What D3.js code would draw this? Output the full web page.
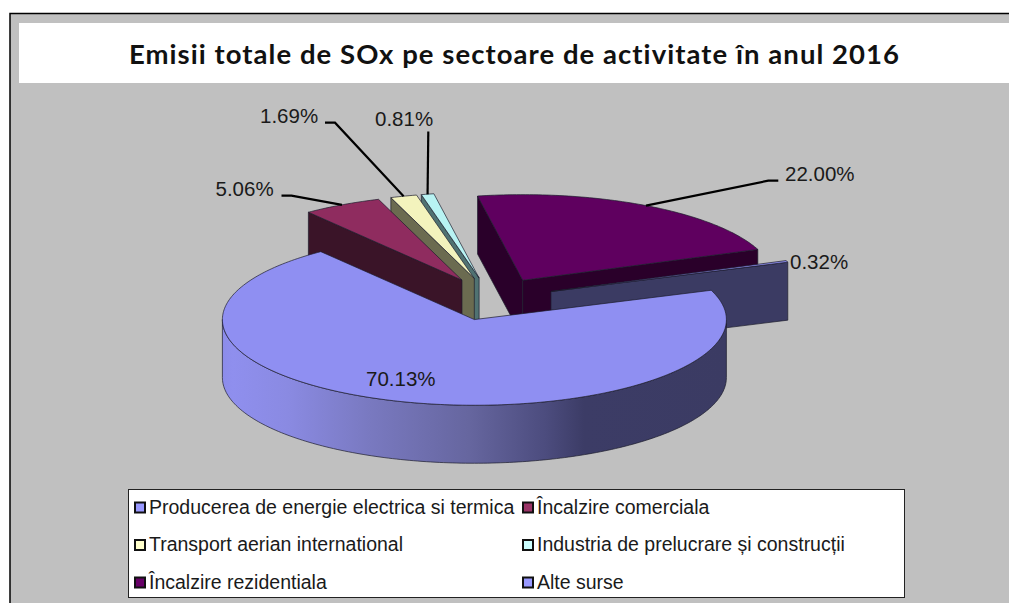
<!DOCTYPE html>
<html><head><meta charset="utf-8">
<script src="https://cdn.jsdelivr.net/npm/d3@7"></script>
<style>html,body{margin:0;padding:0;background:#fff;overflow:hidden}svg{display:block}</style>
</head><body><svg id="c" width="1009" height="603"></svg>
<script>
const titleText = "Emisii totale de SOx pe sectoare de activitate în anul 2016";
const categories = ["Producerea de energie electrica si termica","Încalzire comerciala","Transport aerian international","Industria de prelucrare și construcții","Încalzire rezidentiala","Alte surse"];
const values = [70.13,5.06,1.69,0.81,22.00,0.32];
const labels = ["70.13%","5.06%","1.69%","0.81%","22.00%","0.32%"];
const topColors = ["#8f8ff2","#8f2c5f","#f3f3bd","#b8f3f3","#5f005f","#8f8ff2"];
const sideColors = ["#3b3b63","#3a1428","#6b6b50","#507272","#2a002a","#3b3b63"];
const legendColors = ["#9999ff","#993366","#ffffcc","#ccffff","#660066","#9999ff"];
const drawOrder = [4,3,2,1,5,0];

const svg = d3.select("#c");
const W=1009,H=603;
// frame
svg.append("rect").attr("x",10).attr("y",13.5).attr("width",W).attr("height",H).attr("fill","#c0c0c0").attr("stroke","#000").attr("stroke-width",1.5);
svg.append("rect").attr("x",19).attr("y",23).attr("width",W).attr("height",60).attr("fill","#fff");
svg.append("text").attr("x",514.5).attr("y",64).attr("text-anchor","middle")
  .attr("font-family","Lato, 'Open Sans', sans-serif").attr("font-weight",700).attr("font-size",27.5).attr("letter-spacing",1.05).attr("fill","#111").text(titleText);

// pie geometry
const cx=492,cy=299,R=252,squash=0.34,depth=58,explode=63;
const deg=Math.PI/180, startA=70*deg;
const pie=d3.pie().sort(null).startAngle(startA).endAngle(startA+2*Math.PI)(values);
const pt=(a,r,ox,oy,dz=0)=>[ox+r*Math.sin(a), oy-r*Math.cos(a)*squash+dz];
const defs=svg.append("defs");
const grad=defs.append("linearGradient").attr("id","wall").attr("gradientUnits","userSpaceOnUse")
  .attr("x1",cx-62-R).attr("x2",cx-17+R).attr("y1",0).attr("y2",0);
[[0,"#8080d8"],[0.1,"#8f8fee"],[0.2,"#8a8ae2"],[0.35,"#7979c0"],[0.53,"#66669f"],[0.67,"#4c4c7e"],[0.74,"#3c3c66"],[1,"#3b3b63"]]
 .forEach(s=>grad.append("stop").attr("offset",s[0]).attr("stop-color",s[1]));
const lineGen=d3.line();
const strokeC="#1c1c2c", sw=0.7;
const arcPts=(a0,a1,ox,oy,dz)=>{
  const n=Math.max(2,Math.ceil(Math.abs(a1-a0)/(1*deg)));
  return d3.range(n+1).map(i=>pt(a0+(a1-a0)*i/n,R,ox,oy,dz));
};
const pieG=svg.append("g");
pie.forEach(d=>{ const mid=(d.startAngle+d.endAngle)/2; d.mid=mid;
  d.ox=cx+explode*Math.sin(mid); d.oy=cy-explode*Math.cos(mid)*squash; });
drawOrder.forEach(i=>{
  const d=pie[i],g=pieG.append("g"),side=sideColors[i];
  const wall=(a)=>{
    const p=pt(a,R,d.ox,d.oy);
    g.append("path").attr("d",lineGen([[d.ox,d.oy],p,[p[0],p[1]+depth],[d.ox,d.oy+depth]])+"Z")
      .attr("fill",side).attr("stroke",strokeC).attr("stroke-width",sw);
  };
  if(Math.sin(d.startAngle)<0) wall(d.startAngle);
  if(Math.sin(d.endAngle)>0) wall(d.endAngle);
  // outer wall: part of the rim facing the viewer
  const lo=Math.max(d.startAngle,90*deg), hi=Math.min(d.endAngle,270*deg);
  if(hi>lo){
    const top=arcPts(lo,hi,d.ox,d.oy,0), bot=arcPts(hi,lo,d.ox,d.oy,depth);
    g.append("path").attr("d",lineGen(top.concat(bot))+"Z").attr("fill","url(#wall)").attr("stroke",strokeC).attr("stroke-width",sw);
  }
  g.append("path").attr("d",lineGen([[d.ox,d.oy]].concat(arcPts(d.startAngle,d.endAngle,d.ox,d.oy,0)))+"Z")
    .attr("fill",topColors[i]).attr("stroke",strokeC).attr("stroke-width",sw);
});

// labels (manual layout in the source chart)
const labelLayout=[[366,386,null],[215.5,196,[[281.5,195.7],[291.5,195.7]]],[260,123,[[325,122.7],[335,122.7]]],[375,126,[[428.3,131.5]]],[785,180.5,[[778.3,180.7],[768.3,180.7]]],[790,269,null]];
const labG=svg.append("g");
labels.forEach((t,i)=>{
  const L=labelLayout[i],d=pie[i];
  if(L[2]){
    const end=pt(d.mid,R,d.ox,d.oy);
    labG.append("path").attr("d",lineGen(L[2].concat([end]))).attr("fill","none").attr("stroke","#000").attr("stroke-width",2.2);
  }
  labG.append("text").attr("x",L[0]).attr("y",L[1]).attr("font-family","'Liberation Sans',Arial,sans-serif").attr("font-size",20.5).attr("fill","#1a1a1a").text(t);
});

// legend
svg.append("rect").attr("x",128.5).attr("y",489.5).attr("width",776).attr("height",108).attr("fill","#fff").attr("stroke","#222").attr("stroke-width",1);
const legX=d3.scalePoint().domain([0,1]).range([135,523]);
const legY=d3.scalePoint().domain([0,1,2]).range([502.5,577.5]);
categories.forEach((c,i)=>{
  const col=i%2,row=Math.floor(i/2),x=legX(col),y=legY(row);
  svg.append("rect").attr("x",x).attr("y",y).attr("width",10).attr("height",10).attr("fill",legendColors[i]).attr("stroke","#111").attr("stroke-width",2);
  svg.append("text").attr("x",x+14).attr("y",y+11).attr("font-family","'Liberation Sans',Arial,sans-serif").attr("font-size",19.5).attr("fill","#1a1a1a").text(c);
});
</script></body></html>
